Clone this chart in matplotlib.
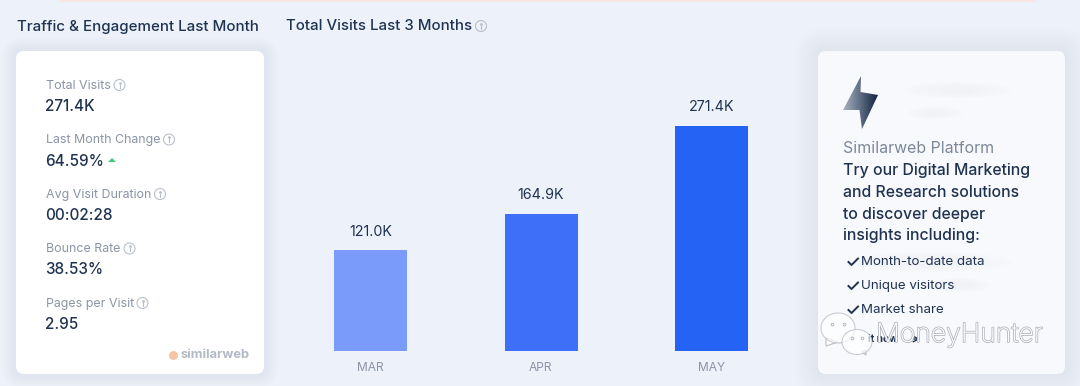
import matplotlib
matplotlib.use('Agg')
import matplotlib.pyplot as plt
import matplotlib.patheffects as pe
from matplotlib.patches import FancyBboxPatch, Circle, Polygon, Ellipse
import numpy as np

plt.rcParams['font.family'] = ['Inter', 'DejaVu Sans']

months = ['MAR', 'APR', 'MAY']
visits = [121.0, 164.9, 271.4]
visit_labels = ['121.0K', '164.9K', '271.4K']
bar_colors = ['#7a9bf9', '#3d6ff8', '#2563f5']

metric_names = ['Total Visits', 'Last Month Change', 'Avg Visit Duration', 'Bounce Rate', 'Pages per Visit']
metric_values = ['271.4K', '64.59%', '00:02:28', '38.53%', '2.95']
metric_icon_x = [119.5, 169, 160, 129.5, 142.5]

promo_lines = ['Try our Digital Marketing', 'and Research solutions', 'to discover deeper', 'insights including:']
promo_checks = ['Month-to-date data', 'Unique visitors', 'Market share']

DARK = '#1f3350'
GREY = '#8b95a5'

fig = plt.figure(figsize=(10.8, 3.86), dpi=100, facecolor='#ecf1fa')

# overlay in pixel coordinates for the cards and text
bg = fig.add_axes([0, 0, 1, 1])
bg.set_xlim(0, 1080)
bg.set_ylim(386, 0)
bg.axis('off')


def card(x0, y0, x1, y1, color, r=8, **kw):
    p = FancyBboxPatch((x0 + r, y0 + r), x1 - x0 - 2 * r, y1 - y0 - 2 * r,
                       boxstyle='round,pad=%d,rounding_size=%d' % (r, r),
                       fc=color, ec='none', **kw)
    bg.add_patch(p)


def info(x, y, r=5.5):
    c = '#b9c0cc'
    bg.add_patch(Circle((x, y), r, fc='none', ec=c, lw=0.8))
    bg.plot([x, x], [y - 0.5, y + 2.8], color=c, lw=0.8)
    bg.plot([x], [y - 2.5], marker='o', ms=1, color=c)


def label(x, y, s, size, color=DARK, **kw):
    return bg.text(x, y, s, fontsize=size, color=color, va='center', **kw)


# peach strip at the very top
bg.fill_between([60, 1036], 0, 1.5, color='#f7e6e2', lw=0)

# soft shadows
for i in range(12):
    grow = 24 - 2 * i
    card(818 - grow, 51 - grow, 1065 + grow, 374 + grow, '#c9cdd8', r=8 + grow, alpha=0.028)
    g2 = 14 - i
    card(16 - g2, 51 - g2, 264 + g2, 374 + g2, '#dbe1f1', r=8 + g2, alpha=0.035)

card(16, 51, 264, 374, 'white')
card(818, 51, 1065, 374, '#f8f9fd')

# section titles
label(17, 26.5, 'Traffic & Engagement Last Month', 10.85, weight='medium')
label(286, 26.5, 'Total Visits Last 3 Months', 10.8, weight='medium')
info(481, 26)

# metrics on the left card
for i in range(len(metric_names)):
    y = 86 + i * 54.5
    label(45.5, y, metric_names[i], 8.95, GREY)
    label(45.5, y + 20.5, metric_values[i], 11, DARK, weight='medium')
    info(metric_icon_x[i], y - 1)
bg.add_patch(Polygon([[108, 162], [116, 162], [112, 158]], fc='#3ecb7c', ec='none'))

# similarweb logo
bg.add_patch(Circle((173.5, 355.5), 4.5, fc='#f5c6a5', ec='none'))
label(181, 355, 'similarweb', 9.3, '#b4bac5', weight='bold')

# promo card
bolt = np.array([[861, 76], [860.5, 92], [878, 95], [862, 129], [859.5, 110], [843, 110]])
grad = np.linspace(0, 1, 64).reshape(1, -1)
cmap = matplotlib.colors.LinearSegmentedColormap.from_list('bolt', ['#a9b2c0', '#5d6c83', '#14233f'])
im = bg.imshow(grad, extent=(843, 878, 129, 76), cmap=cmap, aspect='auto', zorder=3)
clip = Polygon(bolt, transform=bg.transData, fc='none', ec='none')
bg.add_patch(clip)
im.set_clip_path(clip)
bg.set_xlim(0, 1080)
bg.set_ylim(386, 0)

# blurred out bits of the card
for (cx, cy, w, h) in [(958, 90, 105, 16), (935, 113, 55, 12), (930, 262, 165, 20), (960, 285, 60, 14)]:
    for k in range(6):
        bg.add_patch(Ellipse((cx, cy), w * (1 - k * 0.14), h * (1 - k * 0.12), fc='#f1f2f6', ec='none', alpha=0.2))

label(843, 148.5, 'Similarweb Platform', 11.45, '#7b8899')
for i in range(len(promo_lines)):
    label(843, 170.5 + i * 21.8, promo_lines[i], 11.4, DARK, weight='medium')
for i in range(len(promo_checks)):
    y = 261.5 + i * 24
    bg.plot([848.5, 851.5, 858], [y + 0.5, y + 3.5, y - 3], color=DARK, lw=1.4)
    label(861, y + 0.5, promo_checks[i], 9.6, DARK)
label(868, 339.5, 'it now', 7.2, DARK, weight='bold')
bg.annotate('', xy=(923, 339), xytext=(911, 339), arrowprops=dict(arrowstyle='->', color=DARK, lw=1))

# the bar chart
x_px = 285.0
w_px = 511.5
ax = fig.add_axes([x_px / 1080, (386 - 350.5) / 386, w_px / 1080, 250 / 386])
ax.patch.set_alpha(0)
bars = ax.bar(months, visits, width=72 / 170.5, color=bar_colors, edgecolor=bar_colors,
              linewidth=0.72, joinstyle='round')
ax.bar_label(bars, labels=visit_labels, padding=8.5, fontsize=10.3, color=DARK)
ax.set_xlim(-0.5, 2.5)
ax.set_ylim(0, 271.4 * 250 / 224.5)
ax.set_yticks([])
ax.tick_params(axis='x', length=0, pad=8.5, labelsize=8.6, labelcolor=GREY)
for s in ax.spines.values():
    s.set_visible(False)

# watermark on top of everything
top = fig.add_axes([0, 0, 1, 1])
top.set_xlim(0, 1080)
top.set_ylim(386, 0)
top.axis('off')
top.patch.set_alpha(0)
for (cx, cy, rx, ry, tail) in [(838, 328, 17, 15, [[826, 338], [826, 346], [838, 342]]),
                               (857, 342, 15, 12.5, [[862, 352], [866, 355], [866, 350]])]:
    top.add_patch(Polygon(tail, fc='white', ec='#b4b8be', lw=0.8, alpha=0.9, zorder=4))
    top.add_patch(Ellipse((cx, cy), 2 * rx, 2 * ry, fc='white', ec='#b4b8be', lw=0.8, alpha=0.7, zorder=5))
    top.plot([cx - rx * 0.35, cx + rx * 0.35], [cy - ry * 0.3] * 2, ls='none', marker='o', ms=2,
             mfc='none', mec='#9ea3aa', mew=0.5, zorder=6)
top.text(876, 335, 'MoneyHunter', fontsize=19.1, color='white', va='center', weight='light', zorder=7,
         path_effects=[pe.withStroke(linewidth=1.1, foreground='#aeb2b9')])

fig.savefig('out.png', dpi=100, facecolor=fig.get_facecolor())
